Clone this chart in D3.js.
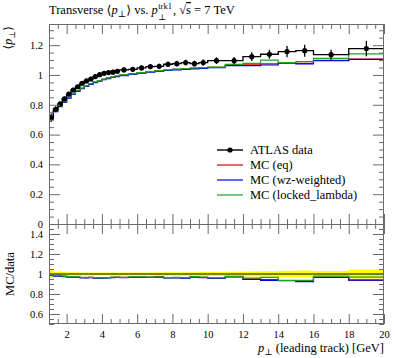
<!DOCTYPE html>
<html><head><meta charset="utf-8">
<script src="https://cdn.jsdelivr.net/npm/d3@7"></script>
<style>
body{margin:0;background:#fff}
svg{display:block}
text{font-family:"Liberation Serif","DejaVu Serif",serif;fill:#000}
</style>
</head><body>
<svg id="c" width="397" height="358"></svg>
<script>
// ---- data ----
const binEdges = [1,1.25,1.5,1.75,2,2.25,2.5,2.75,3,3.25,3.5,3.75,4,4.25,4.5,4.75,5,5.5,6,6.5,7,7.5,8,8.5,9,9.5,10,11,12,13,14,15,16,18,20];
const dataValues = [0.713,0.770,0.805,0.839,0.872,0.899,0.921,0.944,0.960,0.973,
                    0.989,1.002,1.011,1.016,1.019,1.025,1.034,1.038,1.047,1.056,
                    1.058,1.072,1.076,1.083,1.076,1.083,1.096,1.096,1.123,1.139,
                    1.157,1.163,1.136,1.177];
const dataErrors = [0.028,0.020,0.018,0.016,0.015,0.015,0.015,0.015,0.015,0.015,
                    0.015,0.015,0.015,0.015,0.016,0.016,0.016,0.016,0.017,0.017,
                    0.018,0.018,0.019,0.019,0.020,0.021,0.023,0.024,0.029,0.030,
                    0.038,0.040,0.034,0.052];
const mcEq = [0.705,0.757,0.790,0.820,0.848,0.872,0.893,0.911,0.926,0.940,
              0.952,0.962,0.971,0.979,0.986,0.992,0.999,1.007,1.015,1.022,
              1.028,1.033,1.038,1.042,1.045,1.047,1.051,1.067,1.068,1.074,
              1.082,1.078,1.098,1.106];
const mcWz = [0.703,0.754,0.787,0.817,0.845,0.869,0.890,0.908,0.923,0.937,
              0.949,0.959,0.968,0.976,0.983,0.989,0.996,1.004,1.012,1.019,
              1.025,1.030,1.034,1.038,1.041,1.044,1.049,1.063,1.063,1.067,
              1.080,1.074,1.096,1.105];
const mcLocked = [0.706,0.758,0.791,0.821,0.849,0.873,0.894,0.912,0.927,0.941,
                  0.953,0.963,0.972,0.980,0.987,0.993,1.000,1.008,1.016,1.023,
                  1.029,1.034,1.039,1.043,1.047,1.049,1.052,1.071,1.078,1.100,
                  1.083,1.089,1.112,1.141];
const xTickLabels = [2,4,6,8,10,12,14,16,18,20];
const yTickLabels = [0,0.2,0.4,0.6,0.8,1,1.2];
const ratioTickLabels = [0.6,0.8,1,1.2,1.4];
const seriesNames = ["ATLAS data","MC (eq)","MC (wz-weighted)","MC (locked_lambda)"];
const seriesColors = ["#000","#e00000","#0000f0","#22a022"];

// ---- layout ----
const L = 49, R = 384, T = 24, M = 224, B = 324;
const svg = d3.select("#c");
const x = d3.scaleLinear([1,20],[L,R]);
const y = d3.scaleLinear([0,1.342],[M,T]);
const yr = d3.scaleLinear([0.5,1.5],[B,M]);

const frameCol = "#6a6a6a";
const fmt = d => String(+(+d).toFixed(2));

function ticksPanel(ys, yMajor, yMinMax, showXLabels) {
  const xMinor = d3.range(1.5,20,0.5).filter(v => Math.abs(v/2-Math.round(v/2))>1e-6);
  const yMinor = d3.range(yMinMax[0], yMinMax[1]+1e-9, 0.05).map(v=>+v.toFixed(2))
      .filter(v => !yMajor.some(m => Math.abs(m-v)<1e-6));
  const top = ys.range()[1], bot = ys.range()[0];
  const mk = (axis, tr) => {
    const g = svg.append("g").attr("transform", tr).call(axis);
    g.select(".domain").remove();
    g.selectAll("line").attr("stroke", frameCol);
    g.selectAll("text").attr("font-size", 10.5).attr("fill","#000");
    return g;
  };
  mk(d3.axisBottom(x).tickValues(xTickLabels).tickSize(-10).tickPadding(7)
     .tickFormat(showXLabels ? fmt : ""), `translate(0,${bot})`);
  mk(d3.axisBottom(x).tickValues(xMinor).tickSize(-5).tickFormat(""), `translate(0,${bot})`);
  mk(d3.axisTop(x).tickValues(xTickLabels).tickSize(-10).tickFormat(""), `translate(0,${top})`);
  mk(d3.axisTop(x).tickValues(xMinor).tickSize(-5).tickFormat(""), `translate(0,${top})`);
  mk(d3.axisLeft(ys).tickValues(yMajor).tickSize(-11).tickPadding(6).tickFormat(fmt), `translate(${L},0)`);
  mk(d3.axisLeft(ys).tickValues(yMinor).tickSize(-5).tickFormat(""), `translate(${L},0)`);
  mk(d3.axisRight(ys).tickValues(yMajor).tickSize(-11).tickFormat(""), `translate(${R},0)`);
  mk(d3.axisRight(ys).tickValues(yMinor).tickSize(-5).tickFormat(""), `translate(${R},0)`);
}

const defs = svg.append("defs");
defs.append("clipPath").attr("id","cu").append("rect").attr("x",L).attr("y",T).attr("width",R-L).attr("height",M-T);
defs.append("clipPath").attr("id","cr").append("rect").attr("x",L).attr("y",M).attr("width",R-L).attr("height",B-M);

function stepPts(vals){
  const pts = vals.map((v,i)=>({x:binEdges[i], y:v}));
  pts.push({x:binEdges[binEdges.length-1], y:vals[vals.length-1]});
  return pts;
}

// ---- upper panel ----
const gu = svg.append("g").attr("clip-path","url(#cu)");
const lineU = d3.line().x(d=>x(d.x)).y(d=>y(d.y)).curve(d3.curveStepAfter);
[mcEq, mcWz, mcLocked].forEach((s,k)=>{
  gu.append("path").attr("d", lineU(stepPts(s))).attr("fill","none")
    .attr("stroke", seriesColors[k+1]).attr("stroke-width",1.2);
});
gu.append("path").attr("d", lineU(stepPts(dataValues))).attr("fill","none")
  .attr("stroke","#000").attr("stroke-width",1.3);
const mids = dataValues.map((v,i)=>(binEdges[i]+binEdges[i+1])/2);
gu.selectAll("line.err").data(dataValues).join("line").attr("class","err")
  .attr("x1",(d,i)=>x(mids[i])).attr("x2",(d,i)=>x(mids[i]))
  .attr("y1",(d,i)=>y(d-dataErrors[i])).attr("y2",(d,i)=>y(d+dataErrors[i]))
  .attr("stroke","#000").attr("stroke-width",1.3);
gu.selectAll("circle.pt").data(dataValues).join("circle").attr("class","pt")
  .attr("cx",(d,i)=>x(mids[i])).attr("cy",d=>y(d)).attr("r",2.6).attr("fill","#000");

// ---- ratio panel ----
const gr = svg.append("g").attr("clip-path","url(#cr)");
const ratioBand = dataValues.map((v,i)=>({x:binEdges[i], lo:1-dataErrors[i]/v, hi:1+dataErrors[i]/v}));
ratioBand.push({x:20, lo:ratioBand[ratioBand.length-1].lo, hi:ratioBand[ratioBand.length-1].hi});
gr.append("path").attr("d", d3.area().x(d=>x(d.x)).y0(d=>yr(d.lo)).y1(d=>yr(d.hi)).curve(d3.curveStepAfter)(ratioBand))
  .attr("fill","#ffff00").attr("stroke","none");
const lineR = d3.line().x(d=>x(d.x)).y(d=>yr(d.y)).curve(d3.curveStepAfter);
[mcEq, mcWz, mcLocked].forEach((s,k)=>{
  gr.append("path").attr("d", lineR(stepPts(s.map((v,i)=>v/dataValues[i])))).attr("fill","none")
    .attr("stroke", seriesColors[k+1]).attr("stroke-width",1.2);
});
gr.append("path").attr("d", lineR(stepPts(dataValues.map(()=>1)))).attr("fill","none")
  .attr("stroke","#000").attr("stroke-width",1);

// ---- axes & frames ----
ticksPanel(y, yTickLabels, [0,1.34], false);
ticksPanel(yr, ratioTickLabels, [0.5,1.5], true);
svg.append("rect").attr("x",L+0.5).attr("y",T+0.5).attr("width",R-L-1).attr("height",B-T-1)
  .attr("fill","none").attr("stroke",frameCol);
svg.append("line").attr("x1",L).attr("x2",R).attr("y1",M+0.5).attr("y2",M+0.5).attr("stroke",frameCol);

// ---- texts ----
const titleA = svg.append("text").attr("x",L).attr("y",14).attr("font-size",12.5);
titleA.append("tspan").text("Transverse \u27E8");
titleA.append("tspan").attr("font-style","italic").text("p");
titleA.append("tspan").attr("font-size",9).attr("dy",2.5).text("\u22A5");
titleA.append("tspan").attr("dy",-2.5).text("\u27E9 vs. ");
titleA.append("tspan").attr("font-style","italic").text("p");
const wA = titleA.node().getComputedTextLength();
const supT = svg.append("text").attr("x",L+wA+0.5).attr("y",9).attr("font-size",8.5).text("trk1");
svg.append("text").attr("x",L+wA+0.5).attr("y",19.5).attr("font-size",8.5).text("\u22A5");
const wS = supT.node().getComputedTextLength();
const titleB = svg.append("text").attr("x",L+wA+wS+1.5).attr("y",14).attr("font-size",12.5);
titleB.append("tspan").text(", \u221A");
titleB.append("tspan").attr("text-decoration","overline").text("s");
titleB.append("tspan").text(" = 7 TeV");

const yl = svg.append("text").attr("transform",`translate(12,${T+2}) rotate(-90)`)
  .attr("text-anchor","end").attr("font-size",12);
yl.append("tspan").text("\u27E8");
yl.append("tspan").attr("font-style","italic").text("p");
yl.append("tspan").attr("font-size",8.5).attr("dy",2.5).text("\u22A5");
yl.append("tspan").attr("dy",-2.5).text("\u27E9");

svg.append("text").attr("transform",`translate(14,274) rotate(-90)`)
  .attr("text-anchor","middle").attr("font-size",12.5).text("MC/data");

const xl = svg.append("text").attr("x",R).attr("y",352).attr("text-anchor","end").attr("font-size",12.5);
xl.append("tspan").attr("font-style","italic").text("p");
xl.append("tspan").attr("font-size",9).attr("dy",2.5).text("\u22A5");
xl.append("tspan").attr("dy",-2.5).text(" (leading track) [GeV]");

// ---- legend ----
const legY = [150,165,180,195];
seriesNames.forEach((nm,k)=>{
  svg.append("line").attr("x1",217).attr("x2",243).attr("y1",legY[k]).attr("y2",legY[k])
    .attr("stroke",seriesColors[k]).attr("stroke-width", k===0?1.4:1.2);
  if(k===0) svg.append("circle").attr("cx",230).attr("cy",legY[k]).attr("r",2.6).attr("fill","#000");
  svg.append("text").attr("x",250).attr("y",legY[k]+4).attr("font-size",12.5).text(nm);
});
</script>
</body></html>
